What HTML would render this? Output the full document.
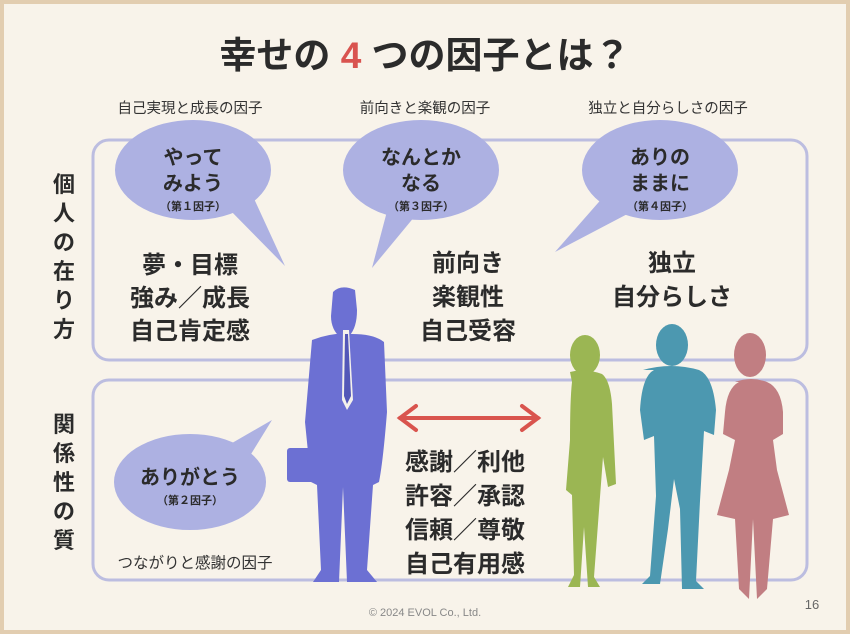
<!DOCTYPE html>
<html><head><meta charset="utf-8"><style>
html,body{margin:0;padding:0;background:#f7f1e8;}
svg{display:block;font-family:"Liberation Sans","Noto Sans CJK JP",sans-serif;}
</style></head><body>
<svg width="850" height="634" viewBox="0 0 850 634" xmlns="http://www.w3.org/2000/svg">
<rect x="0" y="0" width="850" height="634" fill="#e2cdb0"/>
<rect x="4" y="4" width="842" height="626" fill="#f8f3ea"/>
<text x="425" y="68" text-anchor="middle" font-size="37" font-weight="bold" fill="#2b2b2b">幸せの <tspan fill="#d9534f">4</tspan> つの因子とは？</text>
<g font-size="14.5" fill="#333" text-anchor="middle">
<text x="190" y="113">自己実現と成長の因子</text>
<text x="425" y="113">前向きと楽観の因子</text>
<text x="668" y="113">独立と自分らしさの因子</text>
</g>
<rect x="93" y="140" width="714" height="220" rx="16" fill="none" stroke="#bcbde0" stroke-width="3"/>
<rect x="93" y="380" width="714" height="200" rx="16" fill="none" stroke="#bcbde0" stroke-width="3"/>
<g font-size="22" font-weight="bold" fill="#2b2b2b" text-anchor="middle">
<text x="64" y="192">個</text><text x="64" y="221">人</text><text x="64" y="250">の</text><text x="64" y="279">在</text><text x="64" y="308">り</text><text x="64" y="337">方</text>
<text x="64" y="432">関</text><text x="64" y="461">係</text><text x="64" y="490">性</text><text x="64" y="519">の</text><text x="64" y="548">質</text>
</g>
<g fill="#adb1e2">
<ellipse cx="193" cy="170" rx="78" ry="50"/><polygon points="225,205 250,190 285,266"/>
<ellipse cx="421" cy="170" rx="78" ry="50"/><polygon points="390,200 420,210 372,268"/>
<ellipse cx="660" cy="170" rx="78" ry="50"/><polygon points="605,195 635,210 555,252"/>
<ellipse cx="190" cy="482" rx="76" ry="48"/><polygon points="220,450 240,472 272,420"/>
</g>
<g font-weight="bold" fill="#2b2b2b" text-anchor="middle">
<text x="193" y="164" font-size="20">やって</text><text x="193" y="190" font-size="20">みよう</text><text x="193" y="210" font-size="11">（第１因子）</text>
<text x="421" y="164" font-size="20">なんとか</text><text x="421" y="190" font-size="20">なる</text><text x="421" y="210" font-size="11">（第３因子）</text>
<text x="660" y="164" font-size="20">ありの</text><text x="660" y="190" font-size="20">ままに</text><text x="660" y="210" font-size="11">（第４因子）</text>
<text x="190" y="484" font-size="20">ありがとう</text><text x="190" y="504" font-size="11">（第２因子）</text>
</g>
<g font-size="24" font-weight="bold" fill="#2b2b2b" text-anchor="middle">
<text x="190" y="273">夢・目標</text><text x="190" y="306">強み／成長</text><text x="190" y="339">自己肯定感</text>
<text x="468" y="271">前向き</text><text x="468" y="305">楽観性</text><text x="468" y="339">自己受容</text>
<text x="672" y="271">独立</text><text x="672" y="305">自分らしさ</text>
<text x="465" y="470">感謝／利他</text><text x="465" y="504">許容／承認</text><text x="465" y="538">信頼／尊敬</text><text x="465" y="572">自己有用感</text>
</g>
<text x="195" y="568" text-anchor="middle" font-size="15.5" fill="#333">つながりと感謝の因子</text>
<g stroke="#d9544e" stroke-width="4" fill="none" stroke-linecap="round">
<line x1="400" y1="418" x2="538" y2="418"/><polyline points="416,406 400,418 416,430"/><polyline points="522,406 538,418 522,430"/>
</g>
<g fill="#6c70d3">
<path d="M333,292 q8,-8 22,-2 l2,20 q0,18 -8,26 l-8,2 q-10,-8 -10,-22z"/>
<path d="M312,340 q20,-8 40,-6 q22,0 32,8 l3,70 q-4,50 -8,70 l-6,3 l-6,85 l10,12 l-30,0 l-4,-95 l-4,95 l-26,0 l8,-12 l-4,-85 l-6,-3 l-6,-60z"/>
<rect x="287" y="448" width="36" height="34" rx="3"/>
</g>
<path d="M343,330 l6,0 l4,70 l-6,10 l-5,-10z" fill="#f4f1ec"/>
<path d="M345,334 l3,0 l3,62 l-4,8 l-3,-8z" fill="#5357b8"/>
<g fill="#9bb653">
<ellipse cx="585" cy="355" rx="15" ry="20"/>
<path d="M570,372 q15,-4 32,2 q8,6 10,30 l4,80 l-8,3 l-5,-30 l-3,40 l-6,80 l6,10 l-12,0 l-4,-60 l-4,60 l-12,0 l6,-12 l-2,-80 l-6,-5 l4,-50 q0,-40 2,-58z"/>
</g>
<g fill="#4c98b0">
<ellipse cx="672" cy="345" rx="16" ry="21"/>
<path d="M643,370 q28,-8 56,0 q14,6 17,40 l-2,25 l-10,-4 l-4,70 l-4,80 l8,8 l-22,0 l-2,-80 l-6,-30 l-6,50 l-8,55 l-18,0 l8,-8 l6,-80 l-2,-60 l-10,4 l-4,-30 q2,-34 14,-40z"/>
</g>
<g fill="#c17e82">
<ellipse cx="750" cy="355" rx="16" ry="22"/>
<path d="M735,382 q16,-6 32,0 q14,6 16,30 l0,22 l-10,6 l4,30 l12,45 l-16,4 l-6,70 l-10,10 l-4,-80 l-4,80 l-10,-10 l-4,-70 l-18,-4 l12,-45 l6,-30 l-12,-6 l2,-22 q2,-24 14,-30z"/>
</g>
<text x="425" y="616" text-anchor="middle" font-size="11" fill="#888">© 2024 EVOL Co., Ltd.</text>
<text x="812" y="609" text-anchor="middle" font-size="13" fill="#666">16</text>
</svg>
</body></html>
